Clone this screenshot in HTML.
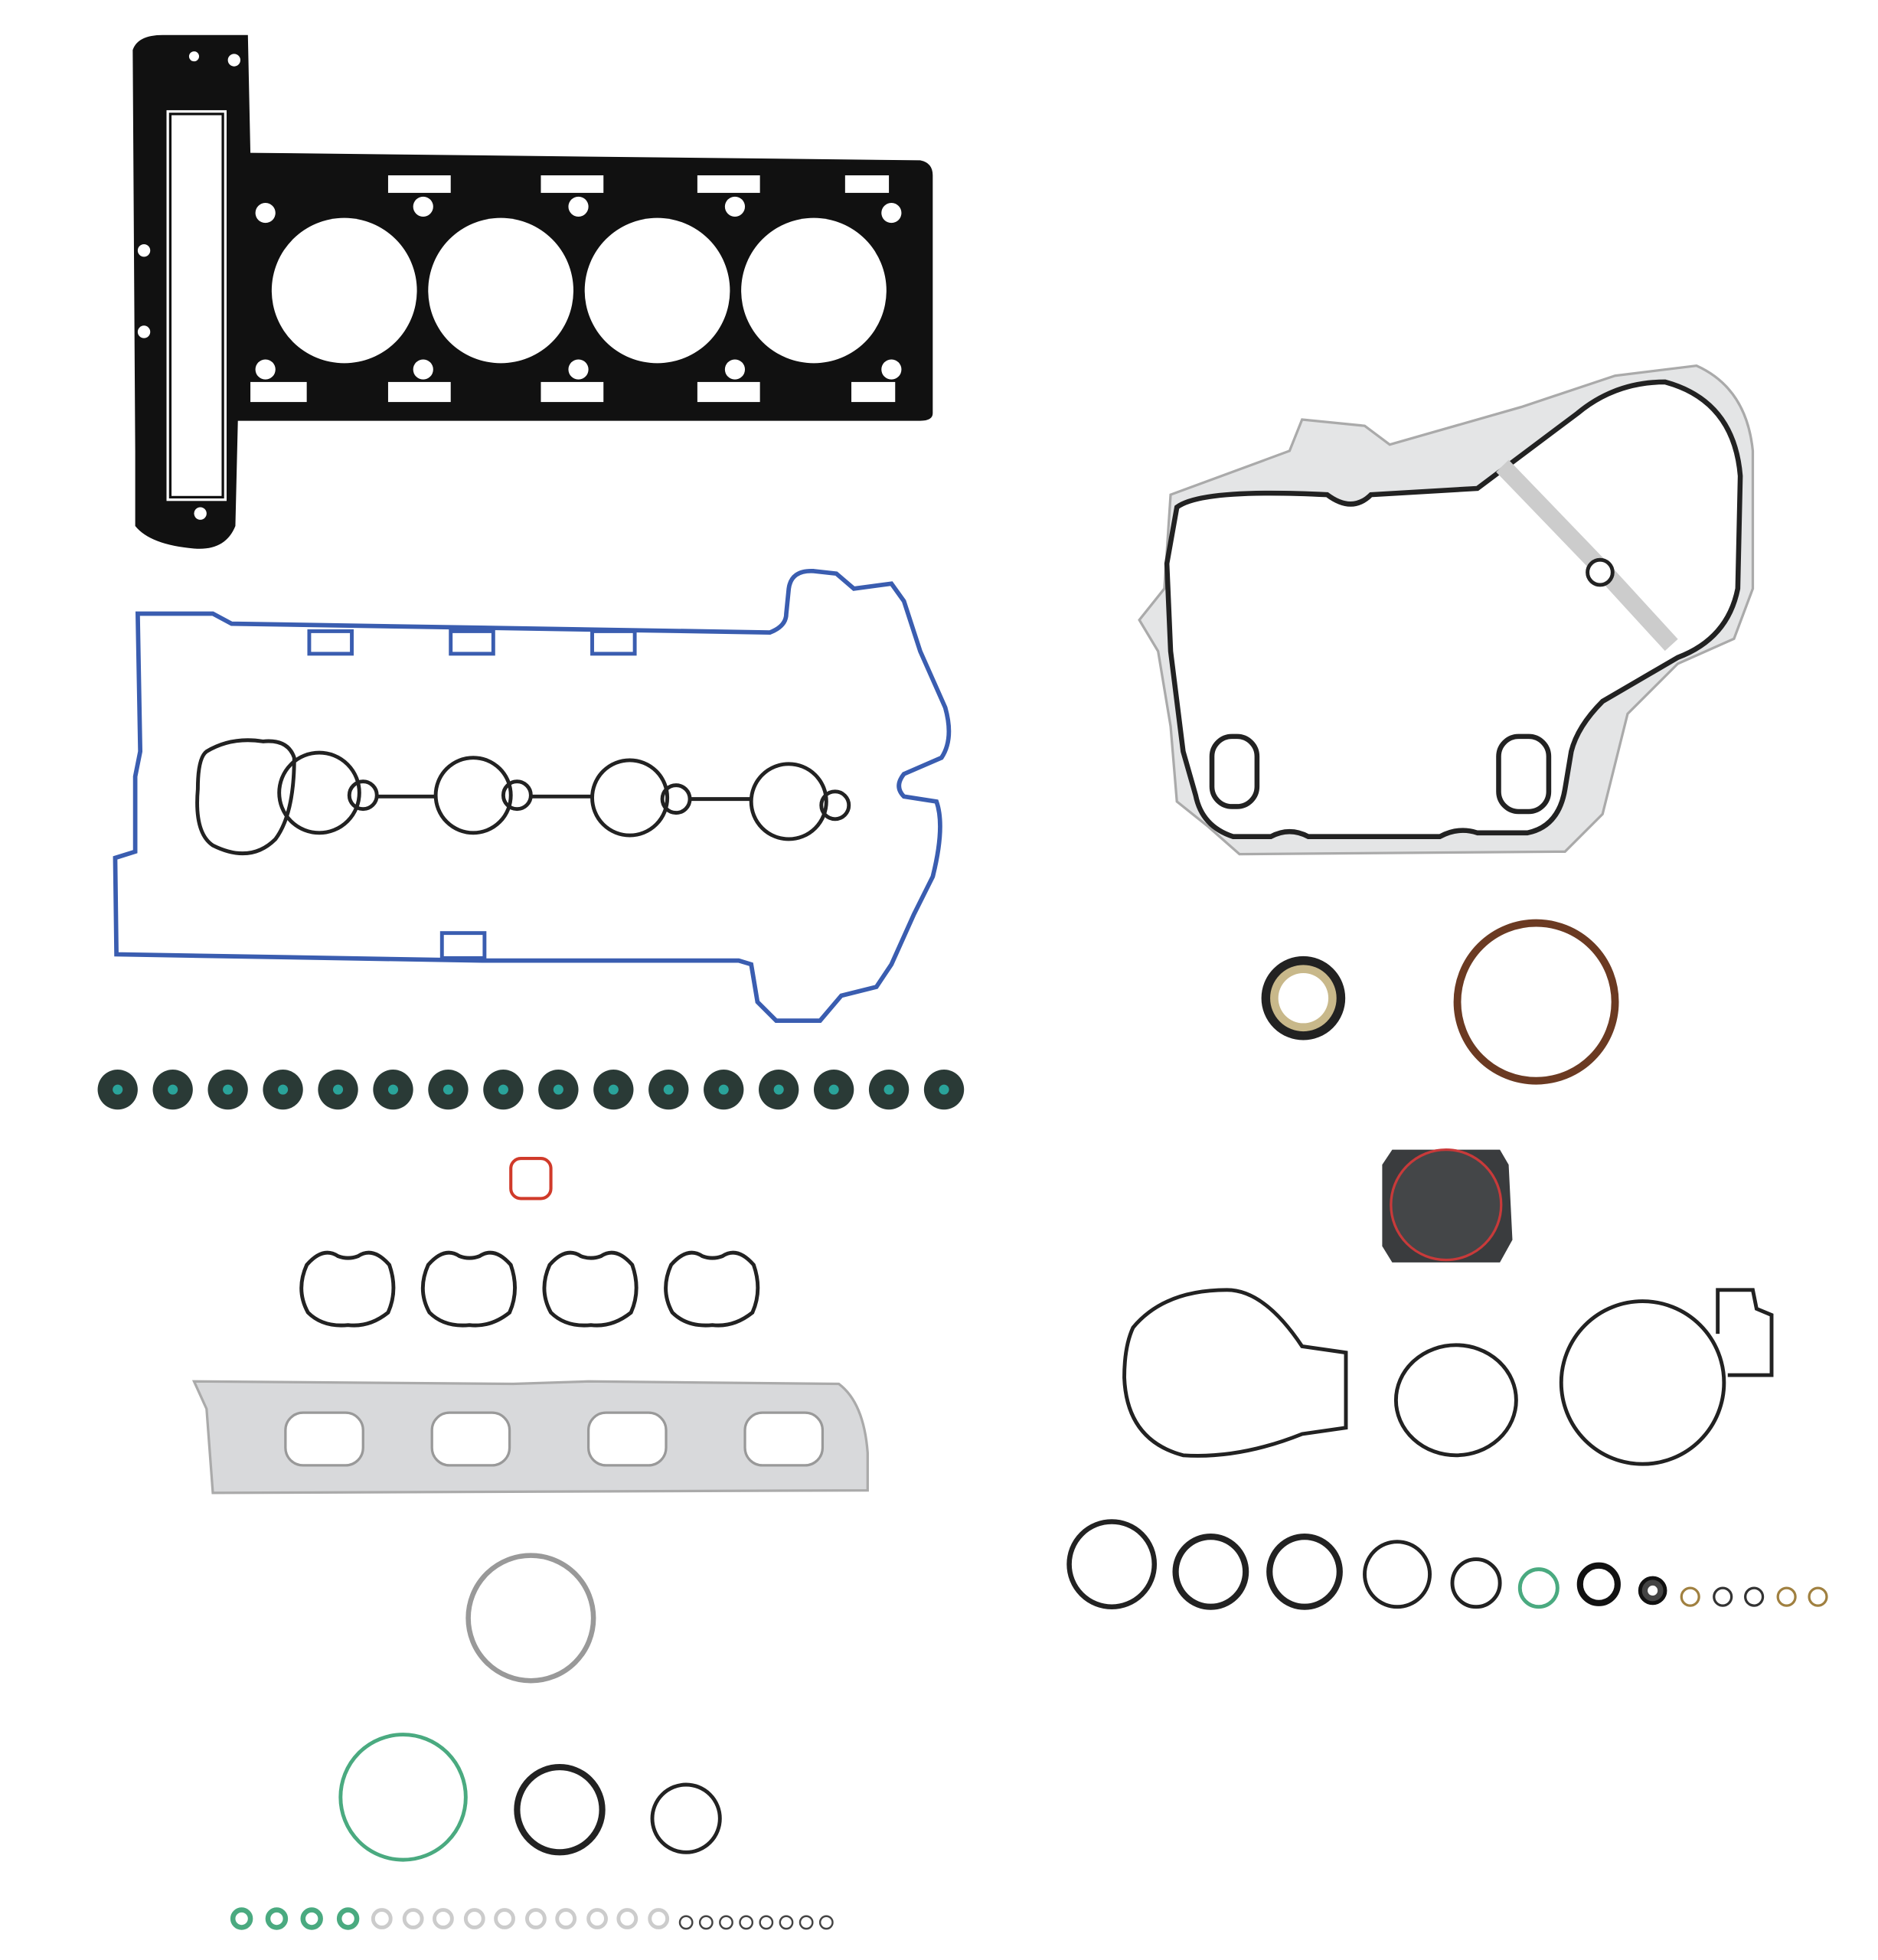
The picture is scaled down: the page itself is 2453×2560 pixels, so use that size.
<!DOCTYPE html>
<html><head><style>html,body{margin:0;padding:0;background:#fff}svg{display:block}</style></head>
<body>
<svg width="2453" height="2560" viewBox="0 0 1500 1565" preserveAspectRatio="none" xmlns="http://www.w3.org/2000/svg">
<rect width="1500" height="1565" fill="#fff"/>
<!-- Head gasket -->
<g>
<path d="M130,28 L198,28 L200,122 L735,128 Q745,130 745,140 L745,330 Q745,336 735,336 L190,336 L188,420 Q180,440 155,438 Q120,435 108,420 L108,360 L106,40 Q110,28 130,28 Z" fill="#111"/>
<rect x="133" y="88" width="48" height="312" fill="#fff"/>
<rect x="136" y="91" width="42" height="306" fill="none" stroke="#111" stroke-width="2"/>
<g fill="#fff">
<circle cx="275" cy="232" r="58"/><circle cx="400" cy="232" r="58"/><circle cx="525" cy="232" r="58"/><circle cx="650" cy="232" r="58"/>
<circle cx="212" cy="170" r="8"/><circle cx="212" cy="295" r="8"/><circle cx="338" cy="165" r="8"/><circle cx="338" cy="295" r="8"/>
<circle cx="462" cy="165" r="8"/><circle cx="462" cy="295" r="8"/><circle cx="587" cy="165" r="8"/><circle cx="587" cy="295" r="8"/>
<circle cx="712" cy="170" r="8"/><circle cx="712" cy="295" r="8"/><circle cx="155" cy="45" r="4"/><circle cx="187" cy="48" r="5"/>
<circle cx="115" cy="200" r="5"/><circle cx="115" cy="265" r="5"/><circle cx="160" cy="410" r="5"/>
<rect x="310" y="140" width="50" height="14"/><rect x="432" y="140" width="50" height="14"/><rect x="557" y="140" width="50" height="14"/><rect x="675" y="140" width="35" height="14"/>
<rect x="310" y="305" width="50" height="16"/><rect x="432" y="305" width="50" height="16"/><rect x="557" y="305" width="50" height="16"/><rect x="200" y="305" width="45" height="16"/><rect x="680" y="305" width="35" height="16"/>
</g>
</g>
<!-- Valve cover gasket -->
<path d="M110,490 L170,490 L185,498 L615,505 Q628,500 628,490 L630,470 Q632,455 650,456 L668,458 L682,470 L712,466 L722,480 L735,520 L755,565 Q762,590 752,605 L722,618 Q714,628 722,636 L748,640 Q755,660 745,700 L730,730 L712,770 L700,788 L672,795 L655,815 L620,815 L605,800 L600,770 L590,767 L385,767 L93,762 L92,685 L108,680 L108,620 L112,600 Z" fill="none" stroke="#3a5db0" stroke-width="3.5"/>
<g fill="none" stroke="#3a5db0" stroke-width="3">
<rect x="247" y="504" width="34" height="18"/><rect x="360" y="504" width="34" height="18"/><rect x="473" y="504" width="34" height="18"/><rect x="353" y="745" width="34" height="20"/>
</g>
<!-- Spark plug gasket -->
<g fill="none" stroke="#222" stroke-width="3">
<path d="M165,600 Q185,588 210,592 Q230,590 235,605 Q235,650 220,670 Q200,690 170,675 Q155,665 158,630 Q158,605 165,600 Z"/>
<circle cx="255" cy="633" r="32"/><circle cx="378" cy="635" r="30"/><circle cx="503" cy="637" r="30"/><circle cx="630" cy="640" r="30"/>
<circle cx="290" cy="635" r="11"/><circle cx="413" cy="635" r="11"/><circle cx="540" cy="638" r="11"/><circle cx="667" cy="643" r="11"/>
<line x1="300" y1="636" x2="348" y2="636"/><line x1="424" y1="636" x2="473" y2="636"/><line x1="550" y1="638" x2="600" y2="638"/>
</g>
<!-- Valve seals -->
<g>
<g fill="#2a3a36">
<circle cx="94" cy="870" r="16"/><circle cx="138" cy="870" r="16"/><circle cx="182" cy="870" r="16"/><circle cx="226" cy="870" r="16"/><circle cx="270" cy="870" r="16"/><circle cx="314" cy="870" r="16"/><circle cx="358" cy="870" r="16"/><circle cx="402" cy="870" r="16"/><circle cx="446" cy="870" r="16"/><circle cx="490" cy="870" r="16"/><circle cx="534" cy="870" r="16"/><circle cx="578" cy="870" r="16"/><circle cx="622" cy="870" r="16"/><circle cx="666" cy="870" r="16"/><circle cx="710" cy="870" r="16"/><circle cx="754" cy="870" r="16"/>
</g>
<g fill="#2aa39a">
<circle cx="94" cy="870" r="4"/><circle cx="138" cy="870" r="4"/><circle cx="182" cy="870" r="4"/><circle cx="226" cy="870" r="4"/><circle cx="270" cy="870" r="4"/><circle cx="314" cy="870" r="4"/><circle cx="358" cy="870" r="4"/><circle cx="402" cy="870" r="4"/><circle cx="446" cy="870" r="4"/><circle cx="490" cy="870" r="4"/><circle cx="534" cy="870" r="4"/><circle cx="578" cy="870" r="4"/><circle cx="622" cy="870" r="4"/><circle cx="666" cy="870" r="4"/><circle cx="710" cy="870" r="4"/><circle cx="754" cy="870" r="4"/>
</g>
</g>
<rect x="408" y="925" width="32" height="32" rx="8" fill="none" stroke="#d03a2a" stroke-width="2.5"/>
<!-- Intake gaskets -->
<g fill="none" stroke="#222" stroke-width="3">
<path d="M245,1010 Q258,995 270,1003 Q278,1006 286,1003 Q298,995 311,1010 Q318,1030 310,1048 Q295,1060 278,1058 Q258,1060 246,1048 Q236,1030 245,1010 Z"/>
<path d="M342,1010 Q355,995 367,1003 Q375,1006 383,1003 Q395,995 408,1010 Q415,1030 407,1048 Q392,1060 375,1058 Q355,1060 343,1048 Q333,1030 342,1010 Z"/>
<path d="M439,1010 Q452,995 464,1003 Q472,1006 480,1003 Q492,995 505,1010 Q512,1030 504,1048 Q489,1060 472,1058 Q452,1060 440,1048 Q430,1030 439,1010 Z"/>
<path d="M536,1010 Q549,995 561,1003 Q569,1006 577,1003 Q589,995 602,1010 Q609,1030 601,1048 Q586,1060 569,1058 Q549,1060 537,1048 Q527,1030 536,1010 Z"/>
</g>
<!-- Exhaust manifold gasket -->
<path d="M155,1103 L410,1105 L470,1103 L670,1105 Q690,1120 693,1160 L693,1190 L170,1192 L165,1125 Z" fill="#d8d9db" stroke="#aaa" stroke-width="2"/>
<g fill="#fff" stroke="#999" stroke-width="2">
<rect x="228" y="1128" width="62" height="42" rx="14"/><rect x="345" y="1128" width="62" height="42" rx="14"/><rect x="470" y="1128" width="62" height="42" rx="14"/><rect x="595" y="1128" width="62" height="42" rx="14"/>
</g>
<!-- ring -->
<circle cx="424" cy="1292" r="50" fill="none" stroke="#999" stroke-width="4"/>
<circle cx="322" cy="1435" r="50" fill="none" stroke="#4aaa80" stroke-width="3"/>
<circle cx="447" cy="1445" r="34" fill="none" stroke="#222" stroke-width="5"/>
<circle cx="548" cy="1452" r="27" fill="none" stroke="#222" stroke-width="3"/>
<!-- bottom small rings -->
<g fill="none" stroke="#4aaa80" stroke-width="4"><circle cx="193" cy="1532" r="7"/><circle cx="221" cy="1532" r="7"/><circle cx="249" cy="1532" r="7"/><circle cx="278" cy="1532" r="7"/></g>
<g fill="none" stroke="#ccc" stroke-width="3"><circle cx="305" cy="1532" r="7"/><circle cx="330" cy="1532" r="7"/><circle cx="354" cy="1532" r="7"/><circle cx="379" cy="1532" r="7"/><circle cx="403" cy="1532" r="7"/><circle cx="428" cy="1532" r="7"/><circle cx="452" cy="1532" r="7"/><circle cx="477" cy="1532" r="7"/><circle cx="501" cy="1532" r="7"/><circle cx="526" cy="1532" r="7"/></g>
<g fill="none" stroke="#444" stroke-width="1.5"><circle cx="548" cy="1535" r="5"/><circle cx="564" cy="1535" r="5"/><circle cx="580" cy="1535" r="5"/><circle cx="596" cy="1535" r="5"/><circle cx="612" cy="1535" r="5"/><circle cx="628" cy="1535" r="5"/><circle cx="644" cy="1535" r="5"/><circle cx="660" cy="1535" r="5"/></g>
<!-- Timing cover gasket -->
<path d="M935,395 L1030,360 L1040,335 L1090,340 L1110,355 L1215,325 L1290,300 L1355,292 Q1395,310 1400,360 L1400,470 L1385,510 L1340,530 L1300,570 L1280,650 L1250,680 L990,682 L965,660 L940,640 L935,580 L925,520 L910,495 L930,470 Z" fill="#e4e5e6" stroke="#aaa" stroke-width="2"/>
<path d="M940,405 Q960,390 1060,395 Q1080,410 1095,395 L1180,390 L1260,330 Q1290,305 1330,305 Q1385,320 1390,380 L1388,470 Q1380,510 1340,525 L1280,560 Q1260,580 1255,600 L1250,630 Q1245,660 1220,665 L1180,665 Q1165,660 1150,668 L1045,668 Q1030,660 1015,668 L985,668 Q960,660 955,635 L945,600 L940,560 L935,520 L932,450 Z" fill="#fff" stroke="#222" stroke-width="4"/>
<path d="M1200,372 L1280,455 L1335,515" stroke="#ccc" stroke-width="14" fill="none"/>
<circle cx="1278" cy="457" r="10" fill="#fff" stroke="#222" stroke-width="3"/>
<rect x="968" y="588" width="36" height="56" rx="16" fill="none" stroke="#222" stroke-width="4"/>
<rect x="1197" y="588" width="40" height="60" rx="16" fill="none" stroke="#222" stroke-width="4"/>
<!-- Seals -->
<circle cx="1041" cy="797" r="30" fill="#c8b88a" stroke="#222" stroke-width="7"/>
<circle cx="1041" cy="797" r="20" fill="#fff"/>
<circle cx="1227" cy="800" r="63" fill="none" stroke="#6b3a22" stroke-width="6"/>
<!-- Dark cover -->
<path d="M1112,918 L1198,918 L1205,930 L1208,990 L1198,1008 L1112,1008 L1104,995 L1104,930 Z" fill="#3a3c3e"/>
<circle cx="1155" cy="962" r="44" fill="#444648" stroke="#c83a3a" stroke-width="2"/>
<!-- Large gaskets -->
<g fill="none" stroke="#222" stroke-width="3">
<path d="M905,1060 Q930,1030 980,1030 Q1010,1030 1040,1075 L1075,1080 L1075,1140 L1040,1145 Q990,1165 945,1162 Q900,1150 898,1100 Q898,1075 905,1060 Z"/>
<ellipse cx="1163" cy="1118" rx="48" ry="44"/>
<circle cx="1312" cy="1104" r="65"/>
<path d="M1372,1065 L1372,1030 L1400,1030 L1403,1045 L1415,1050 L1415,1098 L1380,1098"/>
</g>
<!-- O-rings -->
<circle cx="888" cy="1249" r="34" fill="none" stroke="#222" stroke-width="4"/>
<circle cx="967" cy="1255" r="28" fill="none" stroke="#222" stroke-width="5"/>
<circle cx="1042" cy="1255" r="28" fill="none" stroke="#222" stroke-width="5"/>
<circle cx="1116" cy="1257" r="26" fill="none" stroke="#222" stroke-width="3"/>
<circle cx="1179" cy="1264" r="19" fill="none" stroke="#222" stroke-width="3"/>
<circle cx="1229" cy="1268" r="15" fill="none" stroke="#4aaa80" stroke-width="3"/>
<circle cx="1277" cy="1265" r="15" fill="none" stroke="#111" stroke-width="5"/>
<circle cx="1320" cy="1270" r="10" fill="#444" stroke="#111" stroke-width="3"/><circle cx="1320" cy="1270" r="4" fill="#fff"/>
<circle cx="1350" cy="1275" r="7" fill="none" stroke="#a08040" stroke-width="2"/>
<circle cx="1376" cy="1275" r="7" fill="none" stroke="#333" stroke-width="2"/>
<circle cx="1401" cy="1275" r="7" fill="none" stroke="#333" stroke-width="2"/>
<circle cx="1427" cy="1275" r="7" fill="none" stroke="#a08040" stroke-width="2"/>
<circle cx="1452" cy="1275" r="7" fill="none" stroke="#a08040" stroke-width="2"/>
</svg>
</body></html>
